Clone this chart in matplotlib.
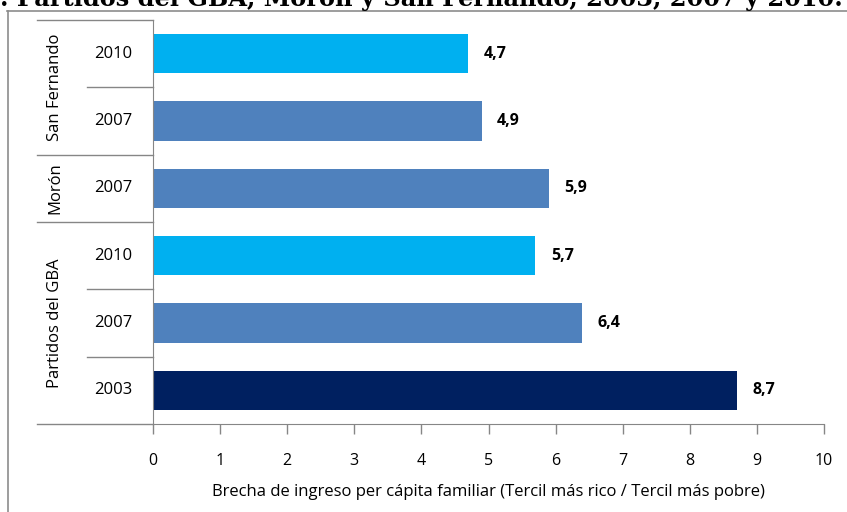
import matplotlib
matplotlib.use("Agg")
import matplotlib.pyplot as plt
from matplotlib.lines import Line2D
from matplotlib.transforms import blended_transform_factory

# ---------------- data ----------------
groups = ["San Fernando", "San Fernando", "Morón", "Partidos del GBA", "Partidos del GBA", "Partidos del GBA"]
years = ["2010", "2007", "2007", "2010", "2007", "2003"]
values = [4.7, 4.9, 5.9, 5.7, 6.4, 8.7]
value_labels = ["4,7", "4,9", "5,9", "5,7", "6,4", "8,7"]
year_colors = {"2010": "#00B0F0", "2007": "#4F81BD", "2003": "#002060"}
xticks = list(range(0, 11))
xlabel = "Brecha de ingreso per cápita familiar (Tercil más rico / Tercil más pobre)"
title = ". Partidos del GBA, Morón y San Fernando, 2003, 2007 y 2010."

W, H = 847, 512
fig = plt.figure(figsize=(W / 100, H / 100), dpi=100)
plt.rcParams['font.family'] = ['Open Sans', 'DejaVu Sans']

def fx(px):
    return px / W

def fy(py):
    return 1 - py / H

ax_l, ax_r, ax_t, ax_b = 153, 824, 20, 424
ax = fig.add_axes([fx(ax_l), fy(ax_b), fx(ax_r - ax_l), (ax_b - ax_t) / H])

n = len(values)
ypos = list(range(n))
cols = [year_colors[y] for y in years]
ax.barh(ypos, values, height=0.58, color=cols, zorder=2)
ax.set_xlim(0, 10)
ax.set_ylim(n - 0.5, -0.5)

grey = "#868686"
for s in ["top", "right"]:
    ax.spines[s].set_visible(False)
ax.spines["left"].set_color(grey)
ax.spines["bottom"].set_color(grey)
ax.set_yticks([])
ax.set_xticks(xticks)
ax.set_xticklabels([str(t) for t in xticks], fontsize=11.5)
ax.tick_params(axis="x", length=7, color=grey, pad=14, width=1)
ax.set_xlabel(xlabel, fontsize=12, labelpad=11)

# value labels
for y, v, lab in zip(ypos, values, value_labels):
    ax.annotate(lab, (v, y), xytext=(11, 0), textcoords="offset points",
                ha="left", va="center", fontsize=11.5, fontweight="bold")

# category table (multi-level axis)
trans = blended_transform_factory(ax.transAxes, ax.transData)
x_grp = (37 - ax_l) / (ax_r - ax_l)
x_yr = (87 - ax_l) / (ax_r - ax_l)
x_yr_lab = (113 - ax_l) / (ax_r - ax_l)
x_grp_lab = (55 - ax_l) / (ax_r - ax_l)

for i in range(n + 1):
    yb = i - 0.5
    if i == 0 or i == n or groups[i - 1] != groups[i]:
        x0 = x_grp
    else:
        x0 = x_yr
    ax.add_line(Line2D([x0, 0], [yb, yb], transform=trans, color=grey, lw=1, clip_on=False))

for y, yr in zip(ypos, years):
    ax.text(x_yr_lab, y, yr, transform=trans, ha="center", va="center", fontsize=12)

uniq = []
for g in groups:
    if g not in uniq:
        uniq.append(g)
for g in uniq:
    idx = [i for i, gg in enumerate(groups) if gg == g]
    yc = (min(idx) + max(idx)) / 2
    ax.text(x_grp_lab, yc, g, transform=trans, ha="center", va="center",
            rotation=90, fontsize=12)

# chart frame
fig.add_artist(Line2D([fx(7.5), fx(7.5)], [fy(11), fy(H + 5)], color="#8c8c8c", lw=1.2))
fig.add_artist(Line2D([fx(7), fx(W + 5)], [fy(11), fy(11)], color="#8c8c8c", lw=1.2))

# cut-off title
fig.text(fx(0), fy(6), title, ha="left", va="baseline", fontsize=17.3,
         fontweight="bold", family=["DejaVu Serif"])

fig.savefig("out.png", dpi=100)
